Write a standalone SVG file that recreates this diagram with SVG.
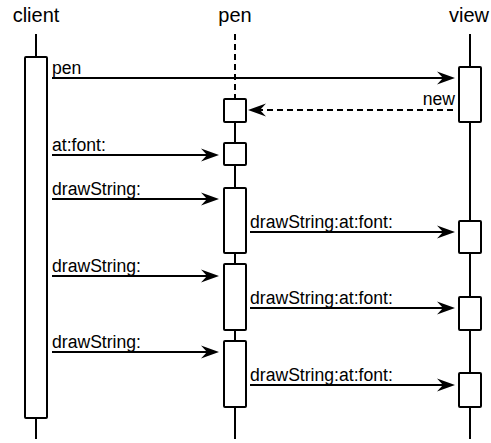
<svg xmlns="http://www.w3.org/2000/svg" width="491" height="443" viewBox="0 0 491 443">
  <style>
    .title { font-family: "Liberation Sans", Arial, sans-serif; font-size: 20px; fill: #000; text-anchor: middle; }
    .label { font-family: "Liberation Sans", Arial, sans-serif; font-size: 17.6px; fill: #000; }
    .life { stroke: #000; stroke-width: 2; fill: none; }
    .life-dash { stroke: #000; stroke-width: 2; fill: none; stroke-dasharray: 6 4; }
    .act { fill: #fff; stroke: #000; stroke-width: 2; }
    .msg { stroke: #000; stroke-width: 2; fill: none; marker-end: url(#head); }
    .reply { stroke: #000; stroke-width: 2; fill: none; stroke-dasharray: 6 4; marker-end: url(#head); }
  </style>
  <defs>
    <marker id="head" markerUnits="userSpaceOnUse" viewBox="0 0 18 14" refX="12" refY="7" markerWidth="18" markerHeight="14" orient="auto">
      <path d="M0,0.5 L18,7 L0,13.5 L6,7 z" fill="#000"/>
    </marker>
  </defs>
  <rect width="491" height="443" fill="#fff"/>

  <!-- client lifeline -->
  <g id="client">
    <text class="title" x="36" y="22">client</text>
    <line class="life" x1="36" y1="34" x2="36" y2="439"/>
    <rect class="act" x="25" y="57" width="22" height="361" rx="1"/>
  </g>

  <!-- pen lifeline -->
  <g id="pen">
    <text class="title" x="235" y="22">pen</text>
    <line class="life-dash" x1="235" y1="34" x2="235" y2="99"/>
    <line class="life" x1="235" y1="122" x2="235" y2="439"/>
    <rect class="act" x="224" y="99" width="22" height="23" rx="1"/>
    <rect class="act" x="224" y="143" width="22" height="22" rx="1"/>
    <rect class="act" x="224" y="188" width="22" height="65" rx="1"/>
    <rect class="act" x="224" y="264" width="22" height="66" rx="1"/>
    <rect class="act" x="224" y="341" width="22" height="66" rx="1"/>
  </g>

  <!-- view lifeline -->
  <g id="view">
    <text class="title" x="469" y="22">view</text>
    <line class="life" x1="470" y1="34" x2="470" y2="439"/>
    <rect class="act" x="459" y="67" width="22" height="55" rx="1"/>
    <rect class="act" x="459" y="221" width="22" height="32" rx="1"/>
    <rect class="act" x="459" y="297" width="22" height="33" rx="1"/>
    <rect class="act" x="459" y="373" width="22" height="34" rx="1"/>
  </g>

  <!-- messages -->
  <g id="connectors">
    <line class="msg" x1="52" y1="78" x2="449" y2="78"/>
    <text class="label" x="52" y="74">pen</text>

    <line class="reply" x1="453" y1="110" x2="254" y2="110"/>
    <text class="label" x="455" y="105" text-anchor="end">new</text>

    <line class="msg" x1="52" y1="155" x2="213" y2="155"/>
    <text class="label" x="52" y="151">at:font:</text>

    <line class="msg" x1="52" y1="199" x2="213" y2="199"/>
    <text class="label" x="52" y="195">drawString:</text>

    <line class="msg" x1="250" y1="232" x2="449" y2="232"/>
    <text class="label" x="250" y="228">drawString:at:font:</text>

    <line class="msg" x1="52" y1="276" x2="213" y2="276"/>
    <text class="label" x="52" y="272">drawString:</text>

    <line class="msg" x1="250" y1="308" x2="449" y2="308"/>
    <text class="label" x="250" y="304">drawString:at:font:</text>

    <line class="msg" x1="52" y1="352" x2="213" y2="352"/>
    <text class="label" x="52" y="348">drawString:</text>

    <line class="msg" x1="250" y1="385" x2="449" y2="385"/>
    <text class="label" x="250" y="381">drawString:at:font:</text>
  </g>
</svg>
